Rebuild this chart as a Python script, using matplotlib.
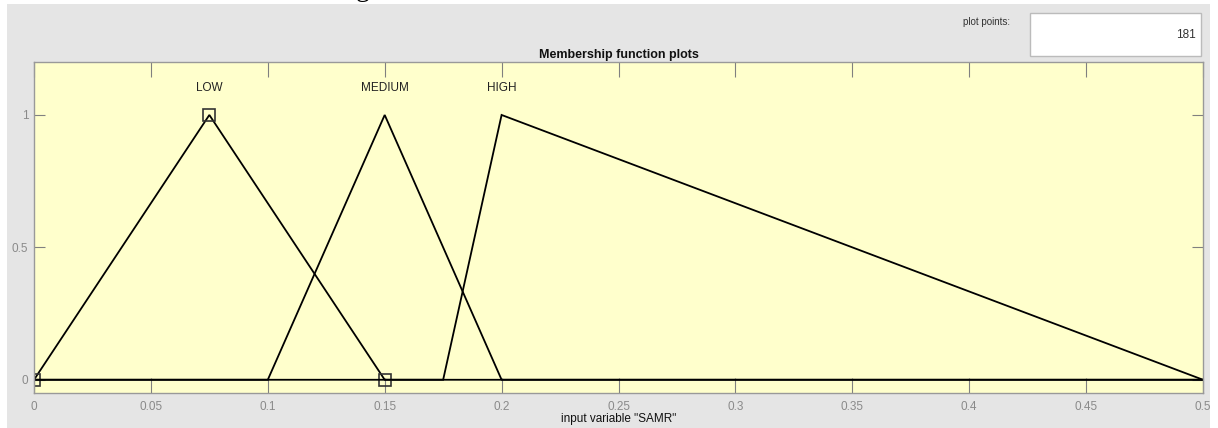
import matplotlib
matplotlib.use("Agg")
import matplotlib.pyplot as plt
from matplotlib.patches import Rectangle

# Data
mf_names = ["LOW", "MEDIUM", "HIGH"]
mf_params = [[0.0, 0.075, 0.15], [0.1, 0.15, 0.2], [0.175, 0.2, 0.5]]
x_range = [0.0, 0.5]
selected = 0
x_ticks = [0, 0.05, 0.1, 0.15, 0.2, 0.25, 0.3, 0.35, 0.4, 0.45, 0.5]
x_tick_labels = ["0", "0.05", "0.1", "0.15", "0.2", "0.25", "0.3", "0.35", "0.4", "0.45", "0.5"]
y_ticks = [0, 0.5, 1]
y_tick_labels = ["0", "0.5", "1"]
plot_points = 181

W, H = 1218, 428
fig = plt.figure(figsize=(W / 100, H / 100), dpi=100)
fig.patch.set_facecolor("white")

def px(x, y):
    return x / W, 1 - y / H

# gray panel
gx0, gy0 = px(7, 4)
fig.patches.append(Rectangle((gx0, 0), 1 - gx0 - 8 / W, gy0, transform=fig.transFigure,
                             facecolor="#e5e5e5", edgecolor="none", zorder=-10))
# partial text from document above (only its descender shows)
fig.text(363 / W, 1 + 4 / H, "g", family="Liberation Serif", fontsize=20,
         ha="center", va="baseline", color="black")

l, t = px(34, 62)
r, b = px(1203, 393)
ax = fig.add_axes([l, b, r - l, t - b])
ax.set_facecolor("#ffffcc")
ax.set_xlim(x_range)
ax.set_ylim(-0.05, 1.2)

for i, (name, (a, bb, c)) in enumerate(zip(mf_names, mf_params)):
    xs = [x_range[0], a, bb, c, x_range[1]]
    ys = [0, 0, 1, 0, 0]
    ax.plot(xs, ys, color="black", lw=1.3, solid_joinstyle="miter")
    ax.text(bb, 1.1, name, ha="center", va="center", fontsize=8.5,
            family="Liberation Sans", color="#222222")
    if i == selected:
        ax.plot([a, bb, c], [0, 1, 0], ls="none", marker="s", ms=8,
                mfc="none", mec="#333333", mew=1.2)

ax.set_xticks(x_ticks)
ax.set_xticklabels(x_tick_labels)
ax.set_yticks(y_ticks)
ax.set_yticklabels(y_tick_labels)
ax.tick_params(axis="both", direction="in", length=11, width=0.8, color="#808080",
               labelcolor="#8a8a8a", labelsize=8.5, top=True, right=True)
ax.tick_params(axis="x", pad=6)
ax.tick_params(axis="y", pad=4, length=8)
for lab in ax.get_xticklabels() + ax.get_yticklabels():
    lab.set_family("Liberation Sans")
for s in ax.spines.values():
    s.set_color("#999999")
    s.set_linewidth(1.0)

ax.set_title("Membership function plots", fontsize=9, fontweight="bold",
             family="Liberation Sans", pad=3, color="#111111")
ax.set_xlabel('input variable "SAMR"', fontsize=8.5, family="Liberation Sans",
              labelpad=0, color="#111111")

# plot points box
fig.text(1010 / W, 1 - 22 / H, "plot points:", fontsize=7, family="Liberation Sans",
         ha="right", va="center", color="#333333")
bx0, by0 = px(1030, 56)
bx1, by1 = px(1201, 13)
fig.patches.append(Rectangle((bx0, by0), bx1 - bx0, by1 - by0, transform=fig.transFigure,
                             facecolor="white", edgecolor="#bbbbbb", lw=1.0, zorder=1))
fig.text(1196 / W, 1 - 35 / H, str(plot_points), fontsize=8.5, family="Liberation Sans",
         ha="right", va="center", color="#333333")

fig.savefig("out.png", dpi=100)
